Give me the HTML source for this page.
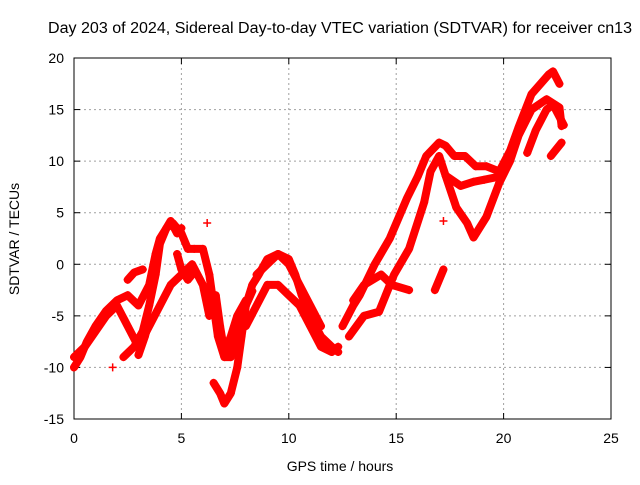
<!DOCTYPE html>
<html><head><meta charset="utf-8"><style>
body{margin:0;background:#fff}
svg text{font-family:"Liberation Sans",sans-serif;font-size:14px;fill:#000}
</style></head><body>
<svg width="640" height="480" viewBox="0 0 640 480">
<rect width="640" height="480" fill="#fff"/>
<g id="grid"></g>
<g id="axes"></g>
<g id="series"></g>
<text x="340" y="33" text-anchor="middle" style="font-size:15.5px" textLength="584" lengthAdjust="spacingAndGlyphs">Day 203 of 2024, Sidereal Day-to-day VTEC variation (SDTVAR) for receiver cn13</text>
<text x="340" y="471" text-anchor="middle">GPS time / hours</text>
<text x="0" y="0" text-anchor="middle" transform="translate(19,239) rotate(-90)">SDTVAR / TECUs</text>
</svg>
<script>
const xTicks=[0,5,10,15,20,25];
const yTicks=[-15,-10,-5,0,5,10,15,20];
const trackA=[[0,-10],[0.3,-9],[0.6,-7.5],[1,-6],[1.5,-4.5],[2,-3.5],[2.5,-3],[3,-4],[3.5,-2],[3.8,1],[4,2.5],[4.3,3.5],[4.6,4],[5,3],[5.3,1.5],[5.6,1.5],[6,1.5],[6.3,-1],[6.5,-4],[6.7,-7],[7,-9],[7.3,-9],[7.6,-7],[8,-4],[8.3,-2],[8.6,-1],[9,0.5],[9.5,1],[10,0.5],[10.3,-1],[10.6,-3],[11,-5],[11.5,-7],[12,-8],[12.3,-8.5]];
const trackB=[[0,-9],[0.5,-8],[1,-6.5],[1.5,-5],[2,-4],[2.5,-6],[3,-8],[3.5,-6],[4,-4],[4.5,-2],[5,-1],[5.5,0],[6,-2],[6.3,-5]];
const trackC=[[6.5,-11.5],[6.8,-12.5],[7,-13.5],[7.3,-12.5],[7.6,-10],[7.8,-7],[8,-4],[8.3,-2.6]];
const trackD=[[8,-6],[8.5,-4],[9,-2],[9.5,-2],[10,-3],[10.5,-4],[11,-6],[11.5,-8],[12,-8.5],[12.3,-8]];
const trackE=[[8.5,-1],[9,0],[9.5,1],[10,0],[10.5,-2],[11,-4],[11.5,-6]];
const trackF=[[12.5,-6],[13,-4],[13.3,-3],[14,0],[14.7,2.5],[15.5,6.4],[16,8.5],[16.4,10.5],[17,11.8],[17.3,11.5],[17.7,10.5],[18.2,10.5],[18.7,9.5],[19.2,9.5],[19.8,9],[20.3,11],[20.7,13.3],[21.3,16.5],[22.1,18.4],[22.3,18.7],[22.6,17.5]];
const trackG=[[12.8,-7],[13.5,-5],[14.2,-4.6],[14.9,-1],[15.6,1.5],[16.3,6],[16.6,9],[17,10.5],[17.3,8.6],[17.8,5.5],[18.3,4],[18.6,2.6],[19.2,4.6],[19.8,7.9],[20.3,10],[20.7,12.5],[21.3,15],[22,16],[22.6,15.2],[22.7,13.4]];
const trackH=[[13,-3.5],[13.5,-2],[14.3,-1],[14.8,-2],[15.6,-2.5]];
const trackI=[[21.1,10.8],[21.5,13],[22,15],[22.3,15.5],[22.8,13.5]];
const trackJ=[[22.2,10.5],[22.7,11.8]];
const trackK=[[16.8,-2.5],[17.2,-0.5]];
const trackL=[[2.3,-9],[2.8,-8],[3.2,-6.5],[3.5,-4],[3.8,-1],[4,2],[4.3,3.5],[4.5,4.2],[4.8,3],[5,3.5]];
const trackM=[[3,-8.8],[3.3,-7],[3.5,-5.5]];
const trackN=[[2.5,-1.5],[2.8,-0.8],[3.2,-0.5]];
const trackO=[[4.8,1],[5,-0.5],[5.3,-1.5],[5.5,-1]];
const trackP=[[6.6,-3],[6.8,-6],[7,-8.5],[7.3,-7],[7.6,-5],[8,-3.5]];
const trackQ=[[17.3,8.6],[18,7.6],[18.6,8],[19.1,8.2],[19.8,8.5]];
const strays=[[6.2,4],[1.8,-10],[17.2,4.2]];
const tracks=[trackA,trackB,trackC,trackD,trackE,trackF,trackG,trackH,trackI,trackJ,trackK,trackL,trackM,trackN,trackO,trackP,trackQ];
const NS="http://www.w3.org/2000/svg";
const L=74,R=611,T=58,B=419;
const sx=v=>L+(v-0)/(25-0)*(R-L);
const sy=v=>B-(v+15)/35*(B-T);
function mk(tag,attrs,parent){const e=document.createElementNS(NS,tag);for(const k in attrs)e.setAttribute(k,attrs[k]);parent.appendChild(e);return e;}
const grid=document.getElementById('grid'),axes=document.getElementById('axes'),ser=document.getElementById('series');
xTicks.forEach(t=>{const x=sx(t);
 if(t>0&&t<25){const g=mk('line',{x1:x,x2:x,y1:T,y2:B,stroke:'#a0a0a0','stroke-dasharray':'2,3'},grid);}
 mk('line',{x1:x,x2:x,y1:B,y2:B-6,stroke:'#000'},axes);mk('line',{x1:x,x2:x,y1:T,y2:T+6,stroke:'#000'},axes);
 const tx=mk('text',{x:x,y:B+24,'text-anchor':'middle'},axes);tx.textContent=t;
 });
yTicks.forEach(t=>{const y=sy(t);
 if(t>-15&&t<20){const g=mk('line',{x1:L,x2:R,y1:y,y2:y,stroke:'#a0a0a0','stroke-dasharray':'2,3'},grid);}
 mk('line',{x1:L,x2:L+6,y1:y,y2:y,stroke:'#000'},axes);mk('line',{x1:R,x2:R-6,y1:y,y2:y,stroke:'#000'},axes);
 const tx=mk('text',{x:L-10,y:y+5,'text-anchor':'end'},axes);tx.textContent=t;
 });
const fr=mk('rect',{x:L,y:T,width:R-L,height:B-T,fill:'none',stroke:'#000'},axes);

tracks.forEach(tr=>{
 const p=mk('polyline',{points:tr.map(d=>sx(d[0])+','+sy(d[1])).join(' '),fill:'none',stroke:'#f00','stroke-width':8,'stroke-linejoin':'round','stroke-linecap':'round'},ser);
 
});
tracks.concat([strays]).forEach(tr=>tr.forEach(d=>{
 const x=sx(d[0]),y=sy(d[1]);
 const m=mk('path',{d:`M${x-4},${y}H${x+4}M${x},${y-4}V${y+4}`,stroke:'#f00','stroke-width':1.5},ser);
 
}));
</script>
</body></html>
